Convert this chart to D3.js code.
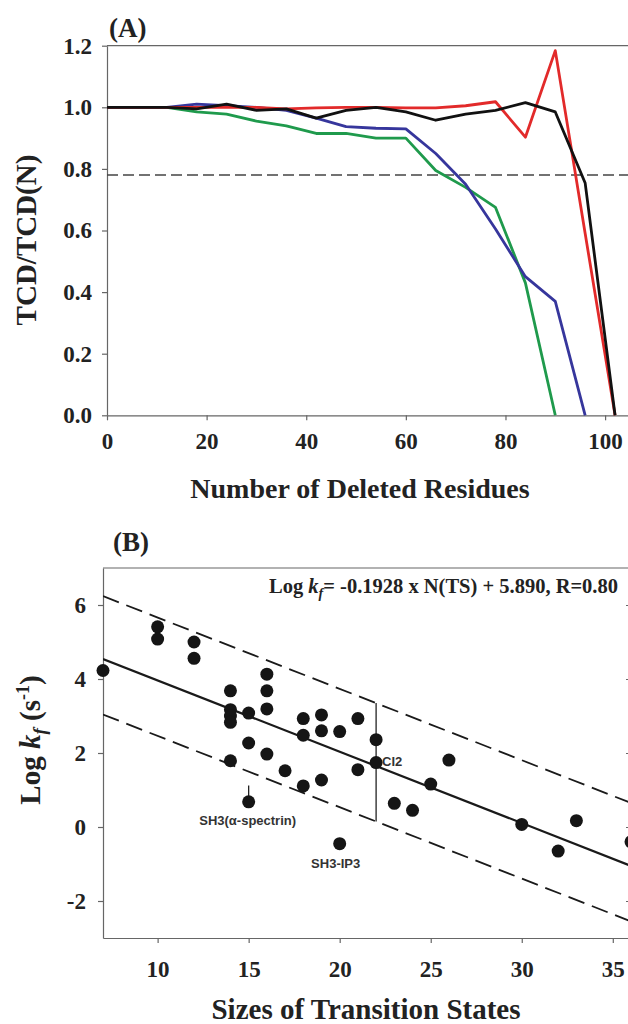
<!DOCTYPE html>
<html>
<head>
<meta charset="utf-8">
<script src="https://cdn.jsdelivr.net/npm/d3@7"></script>
<style>
    body { margin: 0; background: #fff; }
    svg { display: block; }
    .axis path, .axis line { stroke: #666; stroke-width: 1.2; }
    .axis text { font-family: "Liberation Serif", "Times New Roman", serif; font-weight: bold; fill: #222; }
</style>
</head>
<body>
<div id="chart"></div>
<script>
// panel A - deletion profiles
let deleted = [0, 6, 12, 18, 24, 30, 36, 42, 48, 54, 60, 66, 72, 78, 84, 90, 96, 102];
let redSeries = [1.0, 1.0, 1.0, 1.0, 1.0, 1.0, 0.995, 0.998, 1.0, 1.0, 0.998, 0.998, 1.005, 1.018, 0.903, 1.184, 0.59, 0.0];
let blackSeries = [1.0, 1.0, 1.0, 0.995, 1.01, 0.99, 0.995, 0.965, 0.99, 1.0, 0.985, 0.958, 0.978, 0.99, 1.015, 0.985, 0.754, 0.0];
let blueSeries = [1.0, 1.0, 1.0, 1.01, 1.005, 1.0, 0.99, 0.965, 0.937, 0.932, 0.93, 0.85, 0.75, 0.605, 0.45, 0.37, 0.0, null];
let greenSeries = [1.0, 1.0, 1.0, 0.985, 0.978, 0.955, 0.94, 0.915, 0.915, 0.9, 0.9, 0.795, 0.74, 0.675, 0.43, 0.0, null, null];
let thresholdA = 0.78;
let ticksAx = [0, 20, 40, 60, 80, 100];
let ticksAy = [0, 0.2, 0.4, 0.6, 0.8, 1.0, 1.2];

// panel B - folding rates vs transition state size
let sizeTS = [7, 10, 10, 12, 12, 14, 14, 14, 14, 14, 15, 15, 15, 16, 16, 16, 16, 17, 18, 18, 18, 19, 19, 19, 20, 20, 21, 21, 22, 22, 23, 24, 25, 26, 30, 32, 33, 36];
let logKf = [4.23, 5.41, 5.08, 5.0, 4.56, 3.68, 3.17, 3.0, 2.83, 1.79, 3.08, 2.27, 0.68, 4.13, 3.68, 3.19, 1.97, 1.52, 2.93, 2.48, 1.11, 3.03, 2.6, 1.27, 2.58, -0.45, 2.93, 1.55, 2.36, 1.74, 0.64, 0.45, 1.16, 1.81, 0.07, -0.65, 0.17, -0.4];
let fitSlope = -0.1928,
    fitIntercept = 5.890;
let bandUpper = 1.7,
    bandLower = 1.5;
let markX = 22;
let ticksBx = [10, 15, 20, 25, 30, 35];
let ticksBy = [-2, 0, 2, 4, 6];
let pointLabels = [
    {name: 'SH3(\u03b1-spectrin)', x: 15, y: 0.68},
    {name: 'SH3-IP3', x: 20, y: -0.45},
    {name: 'CI2', x: 22, y: 1.74}
];

let width = 628,
    height = 1024;
let serif = '"Liberation Serif", "Times New Roman", serif';
let sans = '"Liberation Sans", Arial, sans-serif';
let plain = d => String(d);

let svg = d3.select('#chart')
    .append('svg')
    .attr('width', width)
    .attr('height', height);

// ---------- panel A ----------
let xA = d3.scaleLinear().domain([0, 105]).range([107, 630]);
let yA = d3.scaleLinear().domain([0, 1.2]).range([415.3, 45.7]);

let gA = svg.append('g');

gA.append('g')
    .attr('class', 'axis')
    .attr('transform', 'translate(0,' + yA(0) + ')')
    .call(d3.axisBottom(xA).tickValues(ticksAx).tickSize(5).tickSizeOuter(0).tickPadding(12).tickFormat(plain))
    .selectAll('text').style('font-size', '23px');

gA.append('g')
    .attr('class', 'axis')
    .attr('transform', 'translate(' + xA(0) + ',0)')
    .call(d3.axisLeft(yA).tickValues(ticksAy).tickSize(5).tickSizeOuter(0).tickPadding(10).tickFormat(d3.format('.1f')))
    .selectAll('text').style('font-size', '23px');

// top frame
gA.append('line')
    .attr('x1', xA(0)).attr('x2', xA(105))
    .attr('y1', yA(1.2)).attr('y2', yA(1.2))
    .attr('stroke', '#666').attr('stroke-width', 1.2);

gA.append('line')
    .attr('x1', xA(0)).attr('x2', xA(105))
    .attr('y1', yA(thresholdA)).attr('y2', yA(thresholdA))
    .attr('stroke', '#444').attr('stroke-width', 1.5)
    .attr('stroke-dasharray', '11,5');

let lineA = d3.line()
    .defined(d => d[1] !== null)
    .x(d => xA(d[0]))
    .y(d => yA(d[1]));

let seriesA = [
    {values: greenSeries, color: '#1f9a4c'},
    {values: blueSeries, color: '#36369c'},
    {values: redSeries, color: '#e22a2a'},
    {values: blackSeries, color: '#111'}
];

seriesA.forEach(function(s) {
    gA.append('path')
        .datum(deleted.map((x, i) => [x, s.values[i]]))
        .attr('fill', 'none')
        .attr('stroke', s.color)
        .attr('stroke-width', 2.8)
        .attr('stroke-linejoin', 'round')
        .attr('d', lineA);
});

gA.append('text')
    .attr('x', 109).attr('y', 37)
    .style('font-family', serif).style('font-weight', 'bold').style('font-size', '27px')
    .attr('fill', '#222')
    .text('(A)');

gA.append('text')
    .attr('x', 360).attr('y', 498)
    .attr('text-anchor', 'middle')
    .style('font-family', serif).style('font-weight', 'bold').style('font-size', '28px')
    .attr('fill', '#222')
    .text('Number of Deleted Residues');

gA.append('text')
    .attr('transform', 'translate(36,240) rotate(-90)')
    .attr('text-anchor', 'middle')
    .style('font-family', serif).style('font-weight', 'bold').style('font-size', '29px')
    .attr('fill', '#222')
    .text('TCD/TCD(N)');

// ---------- panel B ----------
let xB = d3.scaleLinear().domain([7, 36]).range([103, 631]);
let yB = d3.scaleLinear().domain([-3, 7]).range([938, 568]);

let gB = svg.append('g');

gB.append('g')
    .attr('class', 'axis')
    .attr('transform', 'translate(0,' + yB(-3) + ')')
    .call(d3.axisBottom(xB).tickValues(ticksBx).tickSize(5).tickSizeOuter(0).tickPadding(18).tickFormat(plain))
    .selectAll('text').style('font-size', '23px');

gB.append('g')
    .attr('class', 'axis')
    .attr('transform', 'translate(' + xB(7) + ',0)')
    .call(d3.axisLeft(yB).tickValues(ticksBy).tickSize(5).tickSizeOuter(0).tickPadding(12).tickFormat(plain))
    .selectAll('text').style('font-size', '23px');

// right axis with inward ticks
gB.append('g')
    .attr('class', 'axis')
    .attr('transform', 'translate(' + xB(36) + ',0)')
    .call(d3.axisRight(yB).tickValues(ticksBy).tickSize(-5).tickSizeOuter(0).tickFormat(''));

gB.append('line')
    .attr('x1', xB(7)).attr('x2', xB(36))
    .attr('y1', yB(7)).attr('y2', yB(7))
    .attr('stroke', '#666').attr('stroke-width', 1.2);

svg.append('clipPath').attr('id', 'clipB')
    .append('rect')
    .attr('x', xB(7)).attr('y', yB(7))
    .attr('width', xB(36) - xB(7)).attr('height', yB(-3) - yB(7));

let fit = x => fitSlope * x + fitIntercept;
let fitLines = [
    {offset: 0, dash: null, w: 2.2},
    {offset: bandUpper, dash: '17,8', w: 1.8},
    {offset: -bandLower, dash: '17,8', w: 1.8}
];

let lineB = d3.line().x(d => xB(d[0])).y(d => yB(d[1]));

fitLines.forEach(function(f) {
    gB.append('path')
        .datum([[7, fit(7) + f.offset], [36, fit(36) + f.offset]])
        .attr('clip-path', 'url(#clipB)')
        .attr('fill', 'none')
        .attr('stroke', '#1a1a1a')
        .attr('stroke-width', f.w)
        .attr('stroke-dasharray', f.dash)
        .attr('d', lineB);
});

gB.append('line')
    .attr('x1', xB(markX)).attr('x2', xB(markX))
    .attr('y1', yB(fit(markX) + bandUpper)).attr('y2', yB(fit(markX) - bandLower))
    .attr('stroke', '#222').attr('stroke-width', 1.3);

// small bar above SH3(alpha-spectrin)
gB.append('line')
    .attr('x1', xB(15)).attr('x2', xB(15))
    .attr('y1', yB(0.68)).attr('y2', yB(1.12))
    .attr('stroke', '#222').attr('stroke-width', 1.3);

gB.selectAll('circle.pt')
    .data(sizeTS.map((x, i) => [x, logKf[i]]))
    .enter()
    .append('circle')
    .attr('class', 'pt')
    .attr('cx', d => xB(d[0]))
    .attr('cy', d => yB(d[1]))
    .attr('r', 6.5)
    .attr('fill', '#151515');

let labelPos = {
    'SH3(\u03b1-spectrin)': {dx: -1, dy: 23, anchor: 'middle'},
    'SH3-IP3': {dx: -4, dy: 24, anchor: 'middle'},
    'CI2': {dx: 6, dy: 3, anchor: 'start'}
};

gB.selectAll('text.plabel')
    .data(pointLabels)
    .enter()
    .append('text')
    .attr('class', 'plabel')
    .attr('x', d => xB(d.x) + labelPos[d.name].dx)
    .attr('y', d => yB(d.y) + labelPos[d.name].dy)
    .attr('text-anchor', d => labelPos[d.name].anchor)
    .style('font-family', sans).style('font-weight', 'bold').style('font-size', '13px')
    .attr('fill', '#333')
    .text(d => d.name);

// equation
let eq = gB.append('text')
    .attr('x', 618).attr('y', 593)
    .attr('text-anchor', 'end')
    .style('font-family', serif).style('font-weight', 'bold').style('font-size', '20.5px')
    .attr('fill', '#222');
eq.append('tspan').text('Log ');
eq.append('tspan').style('font-style', 'italic').text('k');
eq.append('tspan').style('font-style', 'italic').style('font-size', '14px').attr('dy', 5).text('f');
eq.append('tspan').attr('dy', -5).text('= -0.1928 x N(TS) + 5.890, R=0.80');

gB.append('text')
    .attr('x', 113).attr('y', 551)
    .style('font-family', serif).style('font-weight', 'bold').style('font-size', '27px')
    .attr('fill', '#222')
    .text('(B)');

gB.append('text')
    .attr('x', 366).attr('y', 1019)
    .attr('text-anchor', 'middle')
    .style('font-family', serif).style('font-weight', 'bold').style('font-size', '29px')
    .attr('fill', '#222')
    .text('Sizes of Transition States');

let yt = gB.append('text')
    .attr('transform', 'translate(40,740) rotate(-90)')
    .attr('text-anchor', 'middle')
    .style('font-family', serif).style('font-weight', 'bold').style('font-size', '29px')
    .attr('fill', '#222');
yt.append('tspan').text('Log ');
yt.append('tspan').style('font-style', 'italic').text('k');
yt.append('tspan').style('font-style', 'italic').style('font-size', '19px').attr('dy', 6).text('f');
yt.append('tspan').attr('dy', -6).text(' (s');
yt.append('tspan').style('font-size', '18px').attr('dy', -11).text('-1');
yt.append('tspan').attr('dy', 11).text(')');
</script>
</body>
</html>
